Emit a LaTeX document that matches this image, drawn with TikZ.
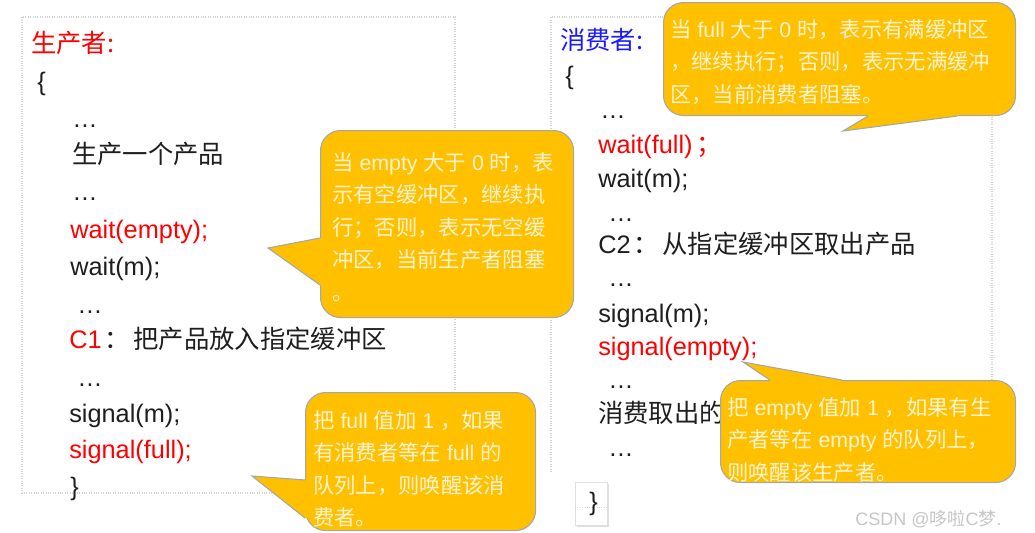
\documentclass[tikz,border=0pt]{standalone}
\usepackage{fontspec}
\setmainfont{Liberation Sans}
\newfontfamily\zhfont{Noto Sans CJK SC}
\usetikzlibrary{calc,shadows}
\newcommand{\zh}[1]{{\zhfont #1}}
\definecolor{bubbleFill}{HTML}{FFC000}
\definecolor{bubbleEdge}{HTML}{A6A6A6}
\definecolor{bubbleInk}{HTML}{FFF4D2}
\definecolor{codeRed}{HTML}{FF0000}
\definecolor{codeBlue}{HTML}{1A1AFF}
\definecolor{codeInk}{HTML}{1E1E1E}
\definecolor{panelLine}{HTML}{D4D4D4}
\tikzset{
  panel/.style={panelLine, densely dotted, line width=0.8pt},
  codeline/.style={anchor=base west, inner sep=0pt, text=codeInk, font=\fontsize{19}{22}\selectfont},
  bubble/.style={fill=bubbleFill, draw=bubbleEdge, line width=0.8pt, rounded corners=15pt, anchor=north west, inner sep=0pt},
  bubbletext/.style={anchor=north west, inner sep=0pt, align=left, text=bubbleInk, font=\fontsize{16}{24.4}\selectfont},
  tipline/.style={draw=bubbleEdge, line width=0.8pt},
}

\begin{document}
\begin{tikzpicture}[x=0.75pt, y=-0.75pt]
  \useasboundingbox (0,0) rectangle (1035,532);

  % frames of the two programs
  \draw[panel] (455,390) -- (455,17) -- (22,17) -- (22,493) -- (305,493);
  \draw[panel] (551,472) -- (551,17) -- (992,17) -- (992,480);

  % producer
  \node[codeline, text=codeRed] (pTitle) at (31,52) {\zh{生产者:}};
  \node[codeline] (pOpen) at (37,90) {\{};
  \node[codeline] (pDots1) at (72,127) {\ldots};
  \node[codeline] (pMake) at (72,163) {\zh{生产一个产品}};
  \node[codeline] (pDots2) at (72,200) {\ldots};
  \node[codeline, text=codeRed] (pWaitE) at (70,238) {wait(empty);};
  \node[codeline] (pWaitM) at (70,275) {wait(m);};
  \node[codeline] (pDots3) at (77,313) {\ldots};
  \node[codeline] (pPut) at (69,348) {\textcolor{codeRed}{C1}\hspace{2pt}\zh{：}\hspace{3pt}\zh{把产品放入指定缓冲区}};
  \node[codeline] (pDots4) at (77,386) {\ldots};
  \node[codeline] (pSigM) at (69,422) {signal(m);};
  \node[codeline, text=codeRed] (pSigF) at (69,458) {signal(full);};
  \node[codeline] (pClose) at (70,495) {\}};

  % consumer
  \node[codeline, text=codeBlue] (cTitle) at (560,49) {\zh{消费者:}};
  \node[codeline] (cOpen) at (565,84) {\{};
  \node[codeline] (cDots1) at (600,118) {\ldots};
  \node[codeline, text=codeRed] (cWaitF) at (598,153) {wait(full)\,\zh{；}};
  \node[codeline] (cWaitM) at (598,187) {wait(m);};
  \node[codeline] (cDots2) at (608,221) {\ldots};
  \node[codeline] (cTake) at (598,253) {C2\hspace{2pt}\zh{：}\hspace{3pt}\zh{从指定缓冲区取出产品}};
  \node[codeline] (cDots3) at (608,286) {\ldots};
  \node[codeline] (cSigM) at (598,322) {signal(m);};
  \node[codeline, text=codeRed] (cSigE) at (598,355) {signal(empty);};
  \node[codeline] (cDots4) at (608,388) {\ldots};
  \node[codeline] (cUse) at (598,422) {\zh{消费取出的}};
  \node[codeline] (cDots5) at (608,456) {\ldots};
  \node[draw=gray!25, fill=white, anchor=north west, inner sep=0pt,
        minimum width=24pt, minimum height=32.25pt,
        drop shadow={opacity=0.25, shadow xshift=1pt, shadow yshift=-1pt}] (closeBox) at (575,482) {};
  \draw[panel] ($(closeBox.west)+(0,4)$) -- ($(closeBox.east)+(0,4)$);
  \node[codeline] (cClose) at (589,510) {\}};

  % callout: wait(empty)
  \node[bubble, minimum width=189.75pt, minimum height=140.25pt] (emptyBox) at (320,130) {};
  \coordinate (emptyTip) at (268,248);
  \fill[bubbleFill] (emptyTip) -- ($(emptyBox.north west)+(0,108)$) -- ($(emptyBox.north west)+(3,108)$)
       -- ($(emptyBox.north west)+(3,155)$) -- ($(emptyBox.north west)+(0,155)$) -- cycle;
  \draw[tipline] ($(emptyBox.north west)+(0,108)$) -- (emptyTip) -- ($(emptyBox.north west)+(0,155)$);
  \node[bubbletext] (emptyText) at (332,152)
       {\zh{当} empty \zh{大于} 0 \zh{时，表}\\ \zh{示有空缓冲区，继续执}\\ \zh{行；否则，表示无空缓}\\
        \zh{冲区，当前生产者阻塞}\\ \zh{。}};

  % callout: wait(full)
  \node[bubble, minimum width=264pt, minimum height=84.75pt] (fullBox) at (663,2) {};
  \coordinate (fullTip) at (843,131);
  \fill[bubbleFill] (fullTip) -- ($(fullBox.south west)+(205,0)$) -- ($(fullBox.south west)+(205,-3)$)
       -- ($(fullBox.south west)+(294,-3)$) -- ($(fullBox.south west)+(294,0)$) -- cycle;
  \draw[tipline] ($(fullBox.south west)+(205,0)$) -- (fullTip) -- ($(fullBox.south west)+(294,0)$);
  \node[bubbletext] (fullText) at (670,19)
       {\zh{当} full \zh{大于} 0 \zh{时，表示有满缓冲区}\\ \zh{，继续执行；否则，表示无满缓冲}\\
        \zh{区，当前消费者阻塞。}};

  % callout: signal(full)
  \node[bubble, minimum width=172.5pt, minimum height=103.5pt] (sigFullBox) at (305,392) {};
  \coordinate (sigFullTip) at (252,476);
  \fill[bubbleFill] (sigFullTip) -- ($(sigFullBox.north west)+(0,88)$) -- ($(sigFullBox.north west)+(3,88)$)
       -- ($(sigFullBox.north west)+(3,126)$) -- ($(sigFullBox.north west)+(0,126)$) -- cycle;
  \draw[tipline] ($(sigFullBox.north west)+(0,88)$) -- (sigFullTip) -- ($(sigFullBox.north west)+(0,126)$);
  \node[bubbletext] (sigFullText) at (313,410)
       {\zh{把} full \zh{值加} 1 \zh{，如果}\\ \zh{有消费者等在} full \zh{的}\\
        \zh{队列上，则唤醒该消}\\ \zh{费者。}};

  % callout: signal(empty)
  \node[bubble, minimum width=221.25pt, minimum height=76.5pt] (sigEmptyBox) at (720,380) {};
  \coordinate (sigEmptyTip) at (743,362);
  \fill[bubbleFill] (sigEmptyTip) -- ($(sigEmptyBox.north west)+(50,0)$) -- ($(sigEmptyBox.north west)+(50,3)$)
       -- ($(sigEmptyBox.north west)+(122,3)$) -- ($(sigEmptyBox.north west)+(122,0)$) -- cycle;
  \draw[tipline] ($(sigEmptyBox.north west)+(50,0)$) -- (sigEmptyTip) -- ($(sigEmptyBox.north west)+(122,0)$);
  \node[bubbletext] (sigEmptyText) at (727,397)
       {\zh{把} empty \zh{值加} 1 \zh{，如果有生}\\ \zh{产者等在} empty \zh{的队列上，}\\
        \zh{则唤醒该生产者。}};

  % watermark
  \node[anchor=base west, inner sep=0pt, text=gray!45, font=\fontsize{13.5}{16}\selectfont] (mark)
       at (855,525) {CSDN @\zh{哆啦}C\zh{梦}.};
\end{tikzpicture}
\end{document}
